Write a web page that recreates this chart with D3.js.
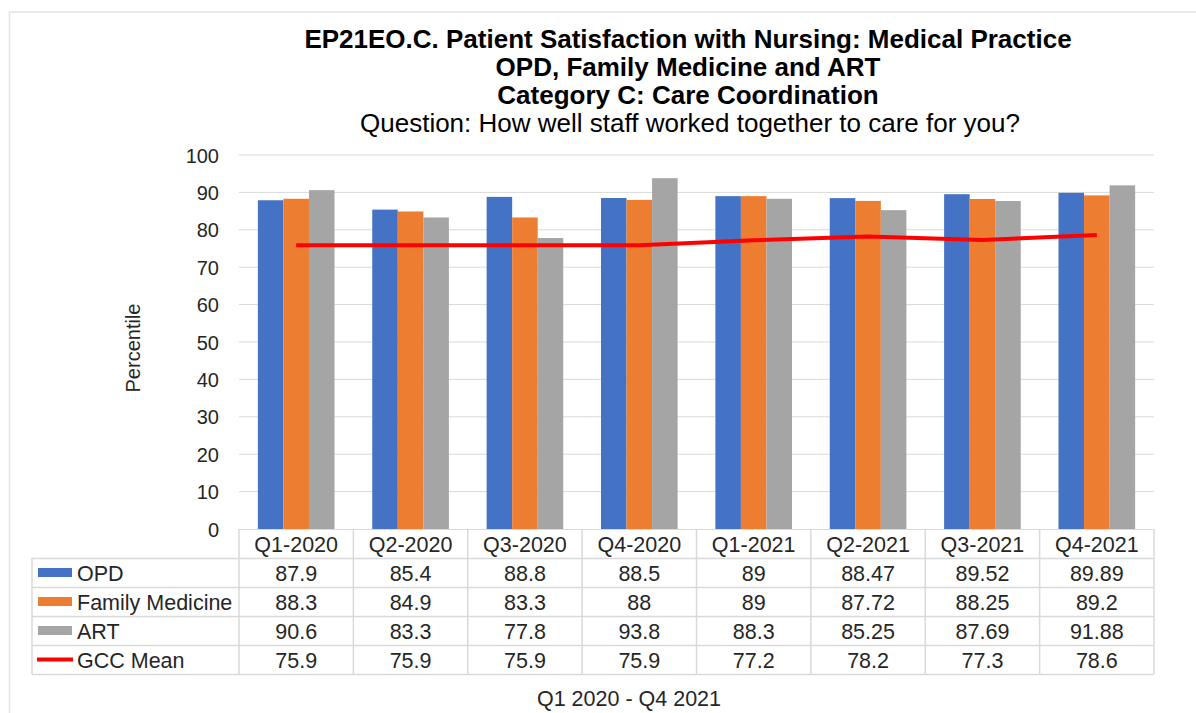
<!DOCTYPE html>
<html><head><meta charset="utf-8">
<script src="https://cdn.jsdelivr.net/npm/d3@7"></script>
<style>body{margin:0;background:#fff}svg{display:block;font-family:"Liberation Sans",Arial,sans-serif}</style>
</head><body>
<svg id="c" width="1196" height="713"></svg>
<script>
const categories = ["Q1-2020","Q2-2020","Q3-2020","Q4-2020","Q1-2021","Q2-2021","Q3-2021","Q4-2021"];
const seriesNames = ["OPD","Family Medicine","ART"];
const opd = [87.9,85.4,88.8,88.5,89,88.47,89.52,89.89];
const familyMedicine = [88.3,84.9,83.3,88,89,87.72,88.25,89.2];
const art = [90.6,83.3,77.8,93.8,88.3,85.25,87.69,91.88];
const gccMean = [75.9,75.9,75.9,75.9,77.2,78.2,77.3,78.6];
const yTicks = [0,10,20,30,40,50,60,70,80,90,100];
const colors = ["#4472c4","#ed7d31","#a5a5a5"];
const lineColor = "#ff0000";
const titleLines = ["EP21EO.C. Patient Satisfaction with Nursing: Medical Practice","OPD, Family Medicine and ART","Category C: Care Coordination"];
const subtitle = "Question: How well staff worked together to care for you?";

const barSeries = [opd, familyMedicine, art];
const svg = d3.select("#c");
const gridC = "#d9d9d9";
const txtC = "#262626";

// outer frame
svg.append("rect").attr("x",9.5).attr("y",12).attr("width",1300).attr("height",800)
  .attr("fill","none").attr("stroke","#e3e3e3").attr("stroke-width",1.5);

const x = d3.scaleBand().domain(categories).range([239,1154]).padding(0);
const bw = x.bandwidth();
const x1 = d3.scaleBand().domain(seriesNames).range([bw*0.165, bw*0.835]).padding(0);
const y = d3.scaleLinear().domain([0,100]).range([529,155]);

// gridlines
svg.append("g").selectAll("line").data(yTicks.filter(d=>d>0)).join("line")
  .attr("x1",239).attr("x2",1154).attr("y1",d=>y(d)).attr("y2",d=>y(d))
  .attr("stroke",gridC).attr("stroke-width",1);

// y axis labels
const yAxis = d3.axisLeft(y).tickValues(yTicks).tickSize(0).tickPadding(0).tickFormat(d3.format("d"));
const ya = svg.append("g").attr("transform","translate(219,0)").call(yAxis);
ya.select(".domain").remove();
ya.selectAll("text").attr("font-size",20).attr("fill",txtC).attr("font-family","Liberation Sans, Arial, sans-serif").attr("dy","0.35em");

// bars
seriesNames.forEach((s,si)=>{
  svg.append("g").selectAll("rect").data(barSeries[si]).join("rect")
    .attr("x",(d,i)=>x(categories[i])+x1(s))
    .attr("width",x1.bandwidth())
    .attr("y",d=>y(d)).attr("height",d=>y(0)-y(d))
    .attr("fill",colors[si]);
});

// line
const line = d3.line().x((d,i)=>x(categories[i])+bw/2).y(d=>y(d));
svg.append("path").datum(gccMean).attr("d",line).attr("fill","none")
  .attr("stroke",lineColor).attr("stroke-width",4).attr("stroke-linejoin","round");

// table
const rowTop = 529, rowH = 29;
const tfs = 21.5;
const tg = svg.append("g");
const rowsData = [...barSeries, gccMean];
const rowNames = [...seriesNames, "GCC Mean"];
tg.append("line").attr("x1",239).attr("x2",1154).attr("y1",rowTop+0.5).attr("y2",rowTop+0.5).attr("stroke",gridC);
[1,2,3,4,5].forEach(r=>{
  tg.append("line").attr("x1",32).attr("x2",1154).attr("y1",rowTop+r*rowH+0.5).attr("y2",rowTop+r*rowH+0.5).attr("stroke",gridC).attr("stroke-width",1.5);
});
tg.append("line").attr("x1",32).attr("x2",32).attr("y1",rowTop+rowH).attr("y2",rowTop+5*rowH).attr("stroke",gridC).attr("stroke-width",1.5);
categories.forEach((c,i)=>{
  tg.append("line").attr("x1",x(c)).attr("x2",x(c)).attr("y1",rowTop).attr("y2",rowTop+5*rowH).attr("stroke",gridC).attr("stroke-width",1.5);
});
tg.append("line").attr("x1",1154).attr("x2",1154).attr("y1",rowTop).attr("y2",rowTop+5*rowH).attr("stroke",gridC).attr("stroke-width",1.5);
tg.selectAll("text.cat").data(categories).join("text").attr("class","cat")
  .attr("x",d=>x(d)+bw/2).attr("y",rowTop+rowH/2+1).attr("dy","0.35em")
  .attr("text-anchor","middle").attr("font-size",tfs).attr("fill",txtC).text(d=>d);
rowsData.forEach((vals,r)=>{
  const cy = rowTop+(r+1)*rowH+rowH/2;
  tg.selectAll("text.v"+r).data(vals).join("text")
    .attr("x",(d,i)=>x(categories[i])+bw/2).attr("y",cy+1).attr("dy","0.35em")
    .attr("text-anchor","middle").attr("font-size",tfs).attr("fill",txtC).text(d=>d);
  if(r<3){
    tg.append("rect").attr("x",38).attr("y",cy-4.5).attr("width",34).attr("height",9).attr("fill",colors[r]);
  } else {
    tg.append("line").attr("x1",37).attr("x2",73).attr("y1",cy).attr("y2",cy).attr("stroke",lineColor).attr("stroke-width",4);
  }
  tg.append("text").attr("x",77).attr("y",cy+1).attr("dy","0.35em").attr("font-size",tfs).attr("fill",txtC).text(rowNames[r]);
});

// titles
const tcx = 688;
titleLines.forEach((t,i)=>{
  svg.append("text").attr("x",tcx).attr("y",48+i*28).attr("text-anchor","middle")
    .attr("font-size",26).attr("font-weight","bold").attr("fill","#000").text(t);
});
svg.append("text").attr("x",690).attr("y",132).attr("text-anchor","middle")
  .attr("font-size",26).attr("fill","#000").text(subtitle);

// axis titles
svg.append("text").attr("transform","translate(140,348) rotate(-90)").attr("text-anchor","middle")
  .attr("font-size",20).attr("fill",txtC).text("Percentile");
svg.append("text").attr("x",629).attr("y",706).attr("text-anchor","middle")
  .attr("font-size",21.5).attr("fill",txtC).text("Q1 2020 - Q4 2021");
</script>
</body></html>
